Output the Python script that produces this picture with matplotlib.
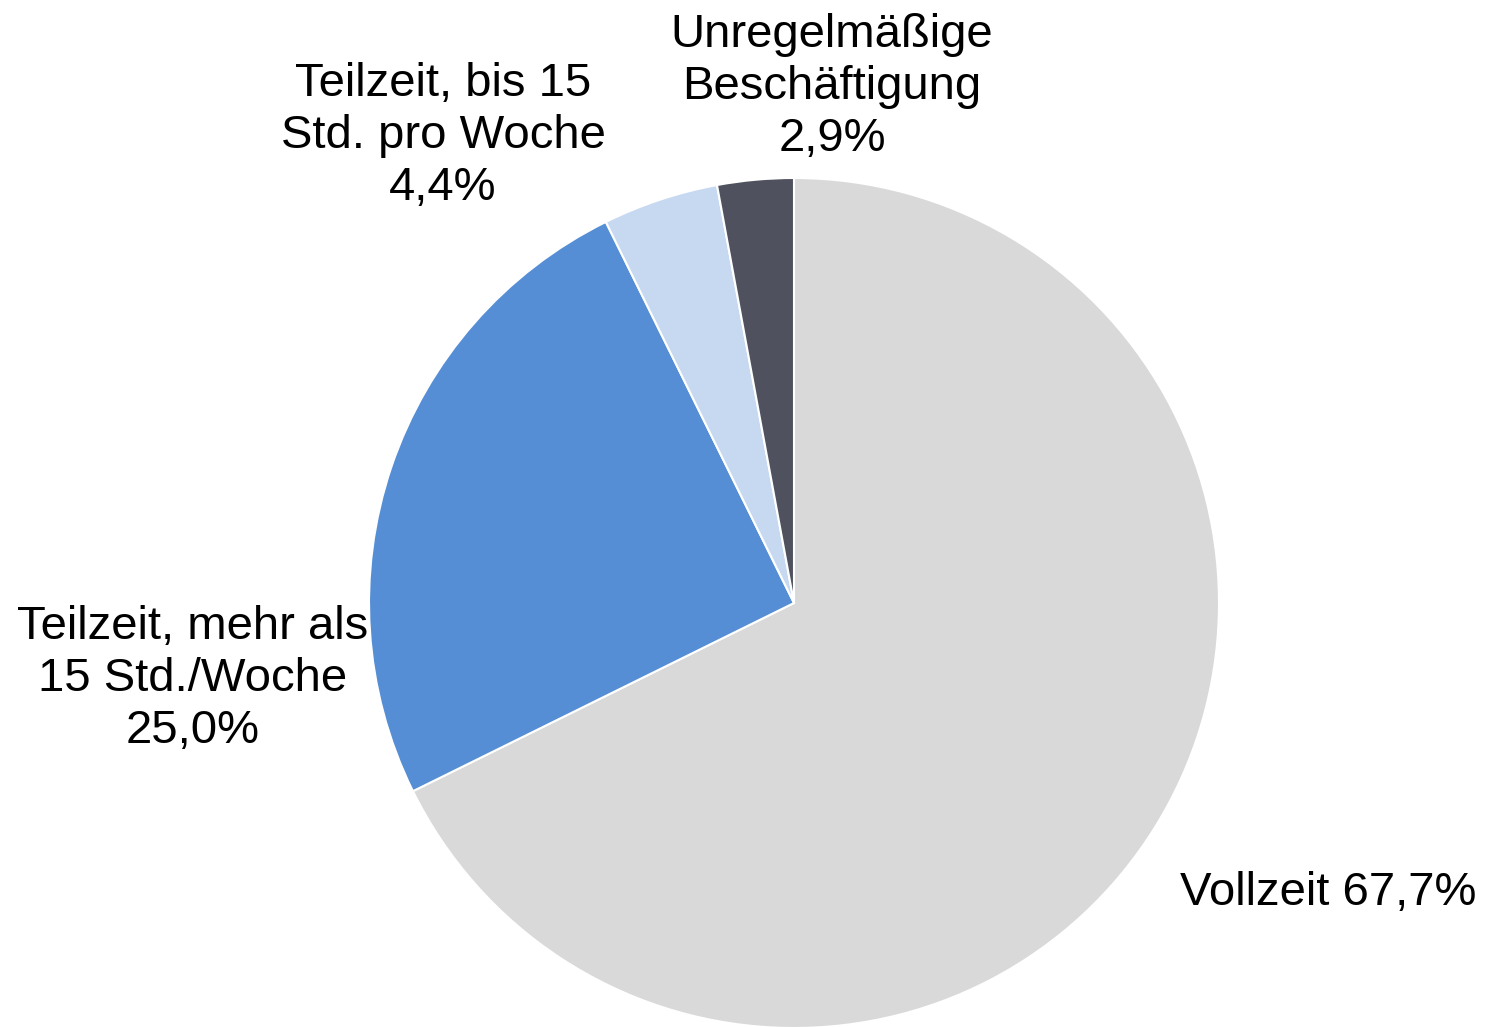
import matplotlib
matplotlib.use("Agg")
import matplotlib.pyplot as plt

labels = ["Vollzeit", "Teilzeit, mehr als\n15 Std./Woche", "Teilzeit, bis 15\nStd. pro Woche", "Unregelmäßige\nBeschäftigung"]
values = [67.7, 25.0, 4.4, 2.9]
colors = ["#D9D9D9", "#558ED5", "#C6D9F1", "#4F525E"]
label_text = ["Vollzeit 67,7%", "Teilzeit, mehr als\n15 Std./Woche\n25,0%",
              "Teilzeit, bis 15\nStd. pro Woche\n4,4%", "Unregelmäßige\nBeschäftigung\n2,9%"]

plt.rcParams['font.family'] = ['Liberation Sans', 'DejaVu Sans']

fig = plt.figure(figsize=(14.9, 10.27), dpi=100)
ax = fig.add_axes([0, 0, 1, 1])
R = 425.0
cx, cy = 794, 603  # pixel centre of the pie
ax.pie(values, colors=colors, startangle=90, counterclock=False, radius=1,
       wedgeprops=dict(edgecolor="white", linewidth=1.5))
ax.set_xlim(-cx / R, (1490 - cx) / R)
ax.set_ylim(-(1027 - cy) / R, cy / R)
ax.set_aspect("auto")
ax.axis("off")

# label centres in pixels
label_pos = [(1328, 893), (193, 679), (443, 136), (832, 87)]
for txt, (px, py) in zip(label_text, label_pos):
    ax.text((px - cx) / R, (cy - py) / R, txt, ha="center", va="center",
            fontsize=34, linespacing=1.24, color="black")

fig.savefig("out.png", dpi=100)
